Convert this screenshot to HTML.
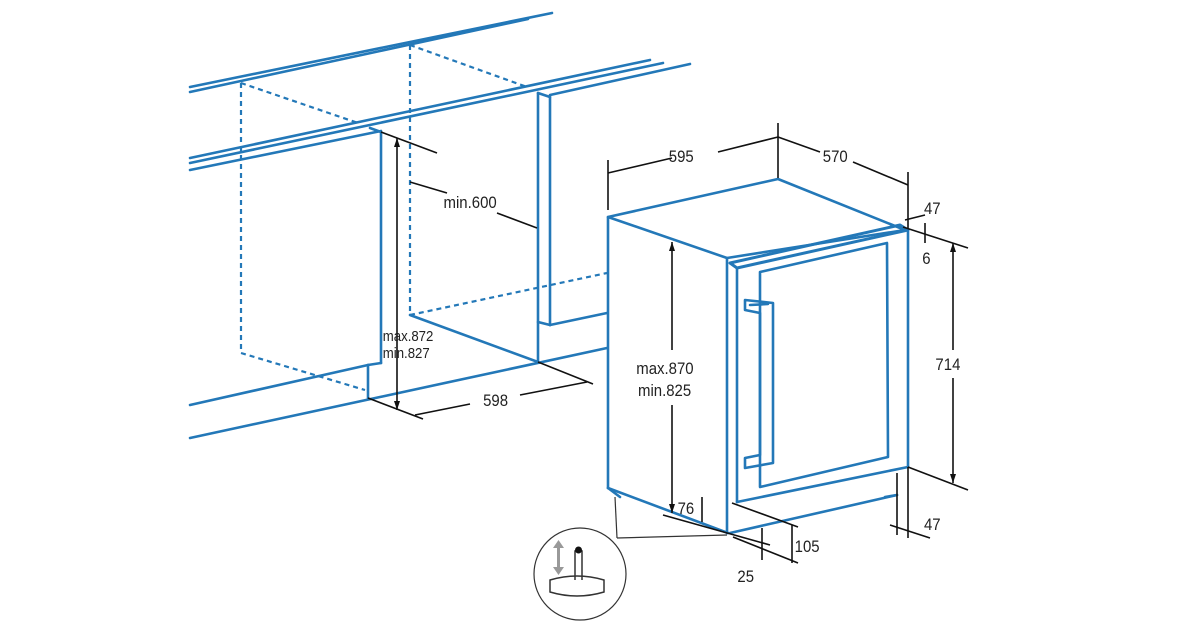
<!DOCTYPE html>
<html><head><meta charset="utf-8"><style>
html,body{margin:0;padding:0;background:#fff;}
svg{display:block}
text{font-family:"Liberation Sans",sans-serif;fill:#222;}
</style></head><body>
<svg width="1200" height="630" viewBox="0 0 1200 630" xmlns="http://www.w3.org/2000/svg">
<g fill="none" stroke="#2378b8" stroke-width="2.6" stroke-linecap="round" stroke-linejoin="round">
<line x1="190" y1="87" x2="552" y2="13"/>
<line x1="190" y1="92" x2="528" y2="19"/>
<line x1="190" y1="158" x2="650" y2="60"/>
<line x1="190" y1="163" x2="663" y2="63"/>
<line x1="190" y1="170" x2="381" y2="131"/>
<line x1="550" y1="95" x2="690" y2="64"/>
<line x1="190" y1="405" x2="368" y2="365"/>
<line x1="190" y1="438" x2="607" y2="348"/>
<line x1="368" y1="365" x2="368" y2="398"/>
<line x1="368" y1="365" x2="381" y2="363"/>
<line x1="381" y1="132" x2="381" y2="363"/>
<line x1="370" y1="128" x2="381" y2="132"/>
<line x1="538" y1="93" x2="538" y2="362"/>
<line x1="550" y1="97" x2="550" y2="325"/>
<line x1="538" y1="93" x2="550" y2="97"/>
<line x1="538" y1="322" x2="550" y2="325"/>
<line x1="550" y1="325" x2="607" y2="313"/>
<line x1="410" y1="315" x2="538" y2="362"/>
</g>
<g fill="none" stroke="#2378b8" stroke-width="2.2" stroke-dasharray="5,4">
<line x1="241" y1="83" x2="241" y2="353"/>
<line x1="241" y1="83" x2="358" y2="123"/>
<line x1="241" y1="353" x2="365" y2="390"/>
<line x1="410" y1="45" x2="410" y2="315"/>
<line x1="410" y1="45" x2="527" y2="87"/>
<line x1="410" y1="315" x2="607" y2="273"/>
</g>
<g fill="none" stroke="#2378b8" stroke-width="2.6" stroke-linejoin="round" stroke-linecap="round">
<polygon points="608,217 778,179 905,230 727,258"/>
<line x1="608" y1="217" x2="608" y2="488"/>
<line x1="608" y1="488" x2="728" y2="533"/>
<line x1="727" y1="258" x2="727" y2="533"/>
<line x1="908" y1="230" x2="908" y2="467"/>
<line x1="730" y1="533" x2="897" y2="495"/>
<path d="M730,263 L900,225 L908,230 L737,268 Z" stroke-width="3"/>
<line x1="737" y1="268" x2="737" y2="502"/>
<line x1="737" y1="502" x2="908" y2="467"/>
<path d="M760,272 L887,243 L888,457 L760,487 Z"/>
<path d="M745,300 L745,310 L760,313 L760,455 L745,458 L745,468 L773,463 L773,303 Z"/>
<line x1="750" y1="305" x2="768" y2="304"/>
<line x1="608" y1="488" x2="620" y2="497"/>
<line x1="885" y1="497" x2="897" y2="495"/>
</g>
<g fill="none" stroke="#111" stroke-width="1.6">
<line x1="397" y1="138" x2="397" y2="410"/>
<line x1="381" y1="132" x2="437" y2="153"/>
<line x1="410" y1="182" x2="447" y2="193"/>
<line x1="497" y1="213" x2="537" y2="228"/>
<line x1="368" y1="398" x2="423" y2="419"/>
<line x1="538" y1="362" x2="593" y2="384"/>
<line x1="415" y1="415" x2="470" y2="404"/>
<line x1="520" y1="395" x2="587" y2="382"/>
<line x1="608" y1="160" x2="608" y2="210"/>
<line x1="608" y1="173" x2="672" y2="158"/>
<line x1="718" y1="152" x2="778" y2="137"/>
<line x1="778" y1="123" x2="778" y2="178"/>
<line x1="778" y1="137" x2="820" y2="152"/>
<line x1="853" y1="162" x2="908" y2="185"/>
<line x1="908" y1="172" x2="908" y2="228"/>
<line x1="903" y1="227" x2="968" y2="248"/>
<line x1="905" y1="220" x2="925" y2="215"/>
<line x1="925" y1="223" x2="925" y2="243"/>
<line x1="953" y1="243" x2="953" y2="350"/>
<line x1="953" y1="378" x2="953" y2="483"/>
<line x1="908" y1="467" x2="968" y2="490"/>
<line x1="897" y1="473" x2="897" y2="535"/>
<line x1="908" y1="467" x2="908" y2="538"/>
<line x1="890" y1="525" x2="930" y2="538"/>
<line x1="672" y1="242" x2="672" y2="350"/>
<line x1="672" y1="405" x2="672" y2="513"/>
<line x1="663" y1="515" x2="770" y2="545"/>
<line x1="702" y1="497" x2="702" y2="522"/>
<line x1="732" y1="503" x2="798" y2="527"/>
<line x1="733" y1="537" x2="798" y2="563"/>
<line x1="792" y1="525" x2="792" y2="563"/>
<line x1="762" y1="528" x2="762" y2="560"/>
</g>
<g fill="#111">
<path d="M397,138 l-3,9 l6,0z"/><path d="M397,410 l-3,-9 l6,0z"/>
<path d="M672,242 l-3,9 l6,0z"/><path d="M672,513 l-3,-9 l6,0z"/>
<path d="M953,243 l-3,9 l6,0z"/><path d="M953,483 l-3,-9 l6,0z"/>
</g>
<g fill="none" stroke="#333" stroke-width="1.2">
<circle cx="580" cy="574" r="46"/>
<line x1="615" y1="497" x2="617" y2="538"/>
<line x1="617" y1="538" x2="727" y2="535"/>
<path d="M550,580 Q577,572 604,580 L604,592 Q577,600 550,592 Z" stroke-width="1.5"/>
<path d="M575,580 L575,551 L582,551 L582,580" stroke-width="1.5"/>
</g>
<circle cx="578.5" cy="550" r="3.5" fill="#111"/>
<g fill="#999">
<rect x="557" y="545" width="3" height="24"/>
<path d="M553,548 L558.5,540 L564,548Z"/><path d="M553,567 L558.5,575 L564,567Z"/>
</g>
<g font-size="15" transform="scale(0.88,1)">
<text x="435" y="341">max.872</text>
<text x="435" y="358">min.827</text>
</g>
<g font-size="17" transform="scale(0.88,1)">
<text x="504" y="208">min.600</text>
<text x="549" y="406">598</text>
<text x="760" y="162">595</text>
<text x="935" y="162">570</text>
<text x="1050" y="214">47</text>
<text x="1048" y="264">6</text>
<text x="1063" y="370">714</text>
<text x="1050" y="530">47</text>
<text x="723" y="374">max.870</text>
<text x="725" y="396">min.825</text>
<text x="770" y="514">76</text>
<text x="903" y="552">105</text>
<text x="838" y="582">25</text>
</g>
</svg>
</body></html>
